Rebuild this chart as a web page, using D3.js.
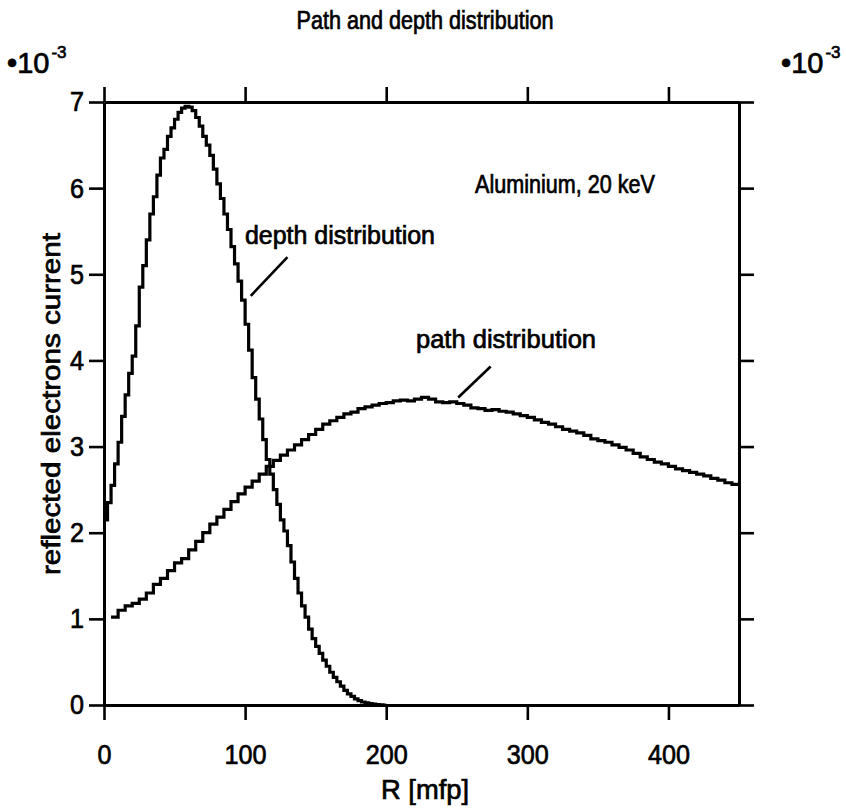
<!DOCTYPE html>
<html>
<head>
<meta charset="utf-8">
<script src="https://cdn.jsdelivr.net/npm/d3@7/dist/d3.min.js"></script>
<style>
  html, body { margin: 0; padding: 0; background: #fff; }
  svg text {
    font-family: "Liberation Sans", Arial, sans-serif;
    fill: #000; stroke: #000; stroke-width: 0.7px;
  }
</style>
</head>
<body>
<svg id="chart" width="846" height="810"></svg>
<script>
// Reflected electron current (units of 1e-3) per bin of R [mfp]
const depthStart = 0;
const depthBinWidth = 2.5;
const depthValues = [
  2.15, 2.35, 2.55, 2.80, 3.05, 3.35, 3.60, 3.85, 4.05, 4.40,
  4.85, 5.10, 5.40, 5.70, 5.90, 6.15, 6.35, 6.45, 6.60, 6.70,
  6.80, 6.88, 6.93, 6.95, 6.94, 6.90, 6.82, 6.72, 6.60, 6.50,
  6.38, 6.22, 6.05, 5.88, 5.70, 5.52, 5.32, 5.12, 4.92, 4.70,
  4.42, 4.12, 3.80, 3.55, 3.32, 3.08, 2.85, 2.68, 2.50, 2.33,
  2.15, 2.02, 1.85, 1.66, 1.47, 1.30, 1.15, 1.02, 0.88, 0.77,
  0.68, 0.60, 0.52, 0.45, 0.38, 0.32, 0.27, 0.22, 0.17, 0.13,
  0.10, 0.07, 0.05, 0.035, 0.025, 0.015, 0.010, 0.005, 0.002, 0.0
];

const pathStart = 5;
const pathBinWidth = 5;
const pathValues = [
  1.02, 1.10, 1.15, 1.18, 1.23, 1.30, 1.40, 1.47, 1.56, 1.65,
  1.70, 1.80, 1.90, 2.00, 2.10, 2.18, 2.27, 2.36, 2.45, 2.53,
  2.60, 2.68, 2.77, 2.84, 2.90, 2.96, 3.02, 3.08, 3.14, 3.20,
  3.26, 3.30, 3.34, 3.38, 3.40, 3.44, 3.46, 3.48, 3.50, 3.51,
  3.53, 3.54, 3.53, 3.55, 3.57, 3.55, 3.52, 3.51, 3.52, 3.50,
  3.48, 3.45, 3.44, 3.42, 3.43, 3.41, 3.40, 3.38, 3.36, 3.34,
  3.31, 3.28, 3.26, 3.23, 3.20, 3.18, 3.16, 3.13, 3.09, 3.07,
  3.05, 3.02, 2.99, 2.96, 2.92, 2.88, 2.85, 2.82, 2.80, 2.77,
  2.74, 2.72, 2.70, 2.68, 2.66, 2.63, 2.61, 2.58, 2.56
];

const xTicks = [0, 100, 200, 300, 400];
const yTicks = [0, 1, 2, 3, 4, 5, 6, 7];
const xDomain = [0, 450];
const yDomain = [0, 7];

const svg = d3.select("#chart");
const W = 846, H = 810;
const margin = { left: 104, right: W - 739, top: 102, bottom: H - 705 };

const x = d3.scaleLinear().domain(xDomain).range([margin.left, W - margin.right]);
const y = d3.scaleLinear().domain(yDomain).range([H - margin.bottom, margin.top]);

const tickLen = 15;
const intFmt = d3.format("d");
const digitWidth = 14;

// Frame: four axes with outward ticks
function styleAxis(g) {
  g.selectAll(".domain").attr("stroke", "#000").attr("stroke-width", 3);
  g.selectAll(".tick line").attr("stroke", "#000").attr("stroke-width", 2.6);
}
// Tall, narrow tick numerals
function styleTickText(g) {
  g.selectAll("text")
    .attr("font-size", 28)
    .attr("textLength", function () { return this.textContent.length * digitWidth; })
    .attr("lengthAdjust", "spacingAndGlyphs");
}

svg.append("g")
  .attr("transform", `translate(0,${y(0)})`)
  .call(d3.axisBottom(x).tickValues(xTicks).tickFormat(intFmt)
    .tickSize(tickLen).tickSizeOuter(0).tickPadding(24))
  .call(styleAxis)
  .call(styleTickText);

svg.append("g")
  .attr("transform", `translate(0,${y(7)})`)
  .call(d3.axisTop(x).tickValues(xTicks).tickSize(tickLen).tickSizeOuter(0).tickFormat(""))
  .call(styleAxis);

svg.append("g")
  .attr("transform", `translate(${x(0)},0)`)
  .call(d3.axisLeft(y).tickValues(yTicks).tickFormat(intFmt)
    .tickSize(tickLen).tickSizeOuter(0).tickPadding(5))
  .call(styleAxis)
  .call(styleTickText);

svg.append("g")
  .attr("transform", `translate(${x(450)},0)`)
  .call(d3.axisRight(y).tickValues(yTicks).tickSize(tickLen).tickSizeOuter(0).tickFormat(""))
  .call(styleAxis);

// Histogram step curves
function stepPoints(start, width, values) {
  const pts = values.map((v, i) => [start + i * width, v]);
  pts.push([start + values.length * width, values[values.length - 1]]);
  return pts;
}

const line = d3.line()
  .x(d => x(d[0]))
  .y(d => y(d[1]))
  .curve(d3.curveStepAfter);

[[depthStart, depthBinWidth, depthValues], [pathStart, pathBinWidth, pathValues]]
  .forEach(([s, w, v]) => {
    svg.append("path")
      .datum(stepPoints(s, w, v))
      .attr("d", line)
      .attr("fill", "none")
      .attr("stroke", "#000")
      .attr("stroke-width", 3.2);
  });

// Title
svg.append("text")
  .attr("x", 425).attr("y", 29)
  .attr("text-anchor", "middle")
  .attr("font-size", 25)
  .attr("textLength", 257).attr("lengthAdjust", "spacingAndGlyphs")
  .text("Path and depth distribution");

// Scale factor labels
function scaleLabel(xPos) {
  const t = svg.append("text").attr("x", xPos).attr("y", 73).attr("font-size", 29);
  t.append("tspan").text("•10");
  t.append("tspan").attr("font-size", 17).attr("dy", -15).attr("dx", 2).text("-3");
}
scaleLabel(7);
scaleLabel(781);

// Axis titles
svg.append("text")
  .attr("x", 425).attr("y", 799)
  .attr("text-anchor", "middle")
  .attr("font-size", 28)
  .attr("textLength", 88).attr("lengthAdjust", "spacingAndGlyphs")
  .text("R [mfp]");

svg.append("text")
  .attr("transform", `translate(60,404) rotate(-90)`)
  .attr("text-anchor", "middle")
  .attr("font-size", 25)
  .attr("textLength", 342).attr("lengthAdjust", "spacingAndGlyphs")
  .text("reflected electrons current");

// Annotations
svg.append("text")
  .attr("x", 475).attr("y", 193)
  .attr("font-size", 25)
  .attr("textLength", 180).attr("lengthAdjust", "spacingAndGlyphs")
  .text("Aluminium, 20 keV");

svg.append("text")
  .attr("x", 245).attr("y", 244)
  .attr("font-size", 25)
  .attr("textLength", 190).attr("lengthAdjust", "spacingAndGlyphs")
  .text("depth distribution");

svg.append("text")
  .attr("x", 416).attr("y", 348)
  .attr("font-size", 25)
  .attr("textLength", 180).attr("lengthAdjust", "spacingAndGlyphs")
  .text("path distribution");

// Leader lines, anchored in data coordinates
const leaders = [
  { from: [130, 5.2], to: [104, 4.75] },
  { from: [274, 3.93], to: [251, 3.57] }
];
svg.selectAll("line.leader")
  .data(leaders)
  .join("line")
  .attr("class", "leader")
  .attr("x1", d => x(d.from[0])).attr("y1", d => y(d.from[1]))
  .attr("x2", d => x(d.to[0])).attr("y2", d => y(d.to[1]))
  .attr("stroke", "#000").attr("stroke-width", 2.6);
</script>
</body>
</html>
